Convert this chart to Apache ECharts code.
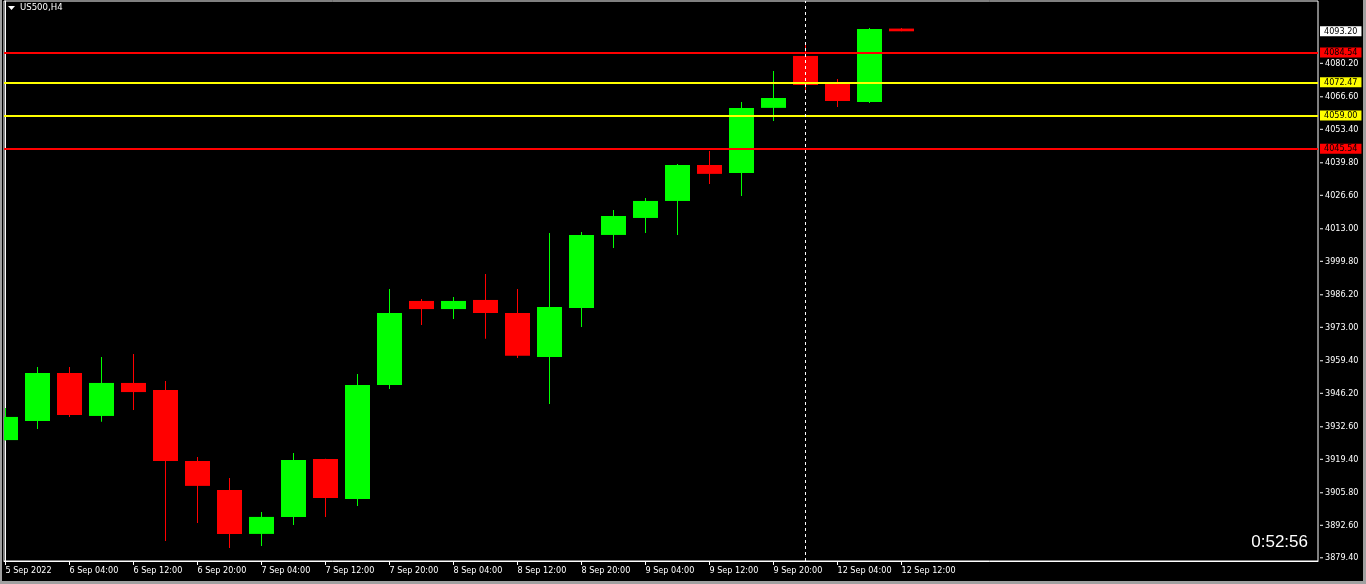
<!DOCTYPE html>
<html>
<head>
<meta charset="utf-8">
<script src="https://cdn.jsdelivr.net/npm/echarts@6/dist/echarts.min.js"></script>
<style>
html,body{margin:0;padding:0;background:#a0a0a0;}
#chart{position:absolute;left:0;top:0;width:1366px;height:584px;}
</style>
</head>
<body>
<div id="chart"></div>
<script>
const symbolTitle = 'US500,H4';
const timerText = '0:52:56';
const times = ['5 Sep 2022','6 Sep 00:00','6 Sep 04:00','6 Sep 08:00','6 Sep 12:00','6 Sep 16:00','6 Sep 20:00',
  '7 Sep 00:00','7 Sep 04:00','7 Sep 08:00','7 Sep 12:00','7 Sep 16:00','7 Sep 20:00',
  '8 Sep 00:00','8 Sep 04:00','8 Sep 08:00','8 Sep 12:00','8 Sep 16:00','8 Sep 20:00',
  '9 Sep 00:00','9 Sep 04:00','9 Sep 08:00','9 Sep 12:00','9 Sep 16:00','9 Sep 20:00',
  '12 Sep 00:00','12 Sep 04:00','12 Sep 08:00','12 Sep 12:00'];
const opens  = [3927.2,3935.0,3954.4,3937.0,3950.4,3947.5,3918.7,3906.9,3889.1,3896.0,3919.5,3903.3,3949.6,3983.7,3980.4,3984.1,3978.8,3960.9,3980.8,4010.5,4017.4,4024.3,4038.9,4035.7,4062.1,4083.2,4072.2,4064.5,4094.3];
const closes = [3936.6,3954.4,3937.4,3950.4,3946.7,3918.7,3908.6,3889.1,3896.0,3919.1,3903.7,3949.6,3978.8,3980.4,3983.7,3978.8,3961.4,3981.2,4010.5,4018.2,4024.3,4038.9,4035.3,4062.1,4066.1,4071.4,4064.9,4094.1,4093.2];
const highs  = [3940.2,3956.9,3956.9,3960.9,3962.2,3951.2,3920.3,3911.8,3898.0,3922.0,3919.6,3954.0,3988.6,3984.5,3985.3,3994.6,3988.6,4011.3,4011.7,4020.6,4025.5,4039.3,4044.6,4064.5,4077.1,4087.6,4073.8,4094.5,4094.5];
const lows   = [3927.0,3931.7,3936.6,3934.6,3939.4,3886.2,3893.5,3883.4,3884.2,3892.7,3896.0,3900.4,3947.9,3973.9,3976.4,3968.3,3960.5,3941.9,3973.1,4005.2,4011.3,4010.5,4031.2,4026.3,4056.8,4069.4,4062.5,4064.1,4093.2];
const xTickIndex = [0,2,4,6,8,10,12,14,16,18,20,22,24,26,28];
const yTicks = [3879.40,3892.60,3905.80,3919.40,3932.60,3946.20,3959.40,3973.00,3986.20,3999.80,4013.00,4026.60,4039.80,4053.40,4066.60,4080.20];
const redLevels = [4084.54, 4045.54];
const yellowLevels = [4072.47, 4059.00];
const currentPrice = 4093.20;
const separatorIndex = 25;

const FONT = '"DejaVu Sans Condensed","DejaVu Sans",sans-serif';
const data = times.map((t, i) => [i, opens[i], closes[i], lows[i], highs[i]]);

function levelLine(v, color, lineColor, visible) {
  return {
    yAxis: v,
    lineStyle: { color: visible ? lineColor : 'rgba(0,0,0,0)', width: 2, type: 'solid' },
    label: {
      show: true, position: 'end', distance: 2,
      formatter: v.toFixed(2), color: '#000', backgroundColor: color,
      fontFamily: FONT, fontSize: 9, lineHeight: 10, padding: [0, 4, 0, 4]
    }
  };
}

const chart = echarts.init(document.getElementById('chart'), null, { renderer: 'canvas' });
const xMin = -0.046875;
const xMax = xMin + 1314 / 32;
chart.setOption({
  animation: false,
  backgroundColor: '#000',
  grid: { left: 4, right: 48, top: 1, bottom: 23, show: true, borderColor: '#fff', borderWidth: 1, backgroundColor: '#000' },
  xAxis: {
    type: 'value', min: xMin, max: xMax,
    axisLine: { show: true, lineStyle: { color: '#fff', width: 1 } },
    axisTick: { show: true, customValues: xTickIndex, length: 4, lineStyle: { color: '#fff' } },
    axisLabel: {
      customValues: xTickIndex, color: '#fff', fontFamily: FONT, fontSize: 9,
      align: 'left', margin: 5, formatter: v => times[Math.round(v)] || ''
    },
    splitLine: { show: false }
  },
  yAxis: {
    type: 'value', position: 'right', min: 3878.1, max: 4105.5, scale: true,
    axisLine: { show: true, lineStyle: { color: '#fff', width: 1 } },
    axisTick: { show: false },
    axisLabel: {
      customValues: yTicks, color: '#fff', fontFamily: FONT, fontSize: 9, margin: 2,
      formatter: v => '{t|}{s|}' + Number(v).toFixed(2),
      rich: {
        t: { width: 3, height: 1, backgroundColor: '#fff' },
        s: { width: 2 }
      }
    },
    splitLine: { show: false }
  },
  graphic: [
    { type: 'polygon', shape: { points: [[8, 6], [15, 6], [11.5, 10]] }, style: { fill: '#fff' } },
    { type: 'text', x: 20, y: 8, style: { text: symbolTitle, fill: '#fff', font: '9.5px ' + FONT, textVerticalAlign: 'middle' } },
    { type: 'text', x: 1308, y: 542, style: { text: timerText, fill: '#fff', font: '17px "Liberation Sans", Arial, sans-serif', textAlign: 'right', textVerticalAlign: 'middle' } },
    { type: 'rect', shape: { x: 0, y: 0, width: 2, height: 584 }, style: { fill: '#a0a0a0' } },
    { type: 'rect', shape: { x: 1363, y: 0, width: 3, height: 584 }, style: { fill: '#a0a0a0' } },
    { type: 'rect', shape: { x: 0, y: 581, width: 1366, height: 3 }, style: { fill: '#a0a0a0' } }
  ],
  series: [{
    type: 'custom',
    clip: true,
    encode: { x: 0, y: [1, 2, 3, 4] },
    data: data,
    renderItem: function (params, api) {
      const x = api.value(0), o = api.value(1), c = api.value(2), l = api.value(3), h = api.value(4);
      const pO = api.coord([x, o]), pC = api.coord([x, c]);
      const pL = api.coord([x, l]), pH = api.coord([x, h]);
      const w = Math.round(api.size([1, 0])[0] * 0.78);
      const color = c >= o ? '#00ff00' : '#ff0000';
      const cx = pO[0];
      const top = Math.min(pO[1], pC[1]);
      const ht = Math.max(Math.abs(pO[1] - pC[1]), 2);
      return {
        type: 'group',
        children: [
          { type: 'rect', shape: { x: cx - 0.5, y: pH[1], width: 1, height: pL[1] - pH[1] }, style: { fill: color } },
          { type: 'rect', shape: { x: cx - w / 2, y: top, width: w, height: ht }, style: { fill: color } }
        ]
      };
    },
    markLine: {
      silent: true, symbol: ['none', 'none'], animation: false,
      data: [
        levelLine(redLevels[0], '#ff0000', '#ff0000', true),
        levelLine(redLevels[1], '#ff0000', '#ff0000', true),
        levelLine(yellowLevels[0], '#ffff00', '#ffff00', true),
        levelLine(yellowLevels[1], '#ffff00', '#ffff00', true),
        levelLine(currentPrice, '#ffffff', '#ffffff', false),
        { xAxis: separatorIndex, lineStyle: { color: '#fff', width: 1, type: [3, 3] }, label: { show: false } }
      ]
    }
  }]
});
</script>
</body>
</html>
